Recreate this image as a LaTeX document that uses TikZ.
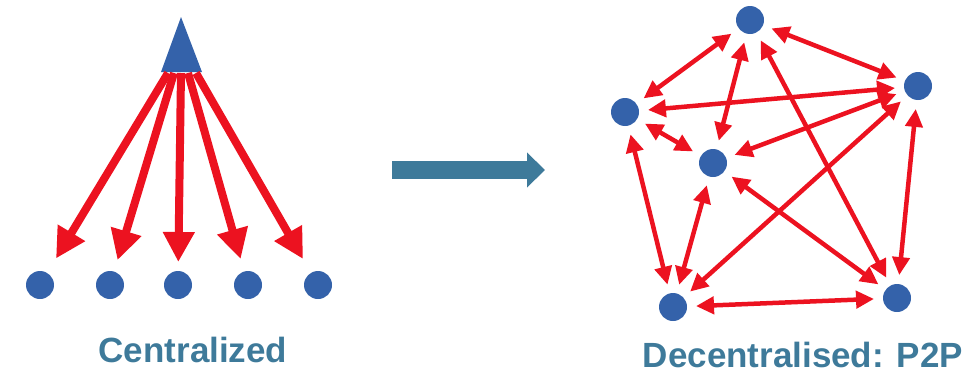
\documentclass[tikz,border=0pt]{standalone}
\usepackage{fontspec}
\setmainfont{Liberation Sans}
\usetikzlibrary{arrows.meta}
\definecolor{peerblue}{RGB}{52,98,170}
\definecolor{linkred}{RGB}{236,18,32}
\definecolor{capblue}{RGB}{62,122,154}
\tikzset{
  peer/.style    = {circle, fill=peerblue, minimum size=28pt,
                    inner sep=0pt, outer sep=0pt},
  feed/.style    = {draw=linkred, line width=8pt,
                    -{Triangle[length=30pt,width=30pt]}},
  link/.style    = {draw=linkred, line width=4.5pt,
                    {Triangle[length=18pt,width=17pt]}-{Triangle[length=18pt,width=17pt]},
                    shorten <=9pt, shorten >=9pt},
  moveto/.style  = {draw=capblue, line width=18pt,
                    -{Triangle[length=18pt,width=34pt]}},
  caption/.style = {font=\fontsize{35}{40}\selectfont\bfseries,
                    text=capblue, inner sep=0pt, anchor=base},
}

\begin{document}
\begin{tikzpicture}[x=1pt,y=-1pt]
  \useasboundingbox (0,0) rectangle (980,375);

  % centralized: one source feeding five clients
  \fill[peerblue] (181,17) -- (202,72) -- (161,72) -- cycle;
  \foreach \i/\x/\b in {1/40/168, 2/110/174, 3/178/181, 4/248/188, 5/318/196} {
    \node[peer] (c\i) at (\x,285) {};
    \coordinate (src\i) at (\b,73);
  }
  \foreach \i/\s in {1/17, 2/12, 3/9, 4/13, 5/16}
    \draw[feed, shorten >=\s pt] (src\i) -- (c\i);
  \node[caption] (cen) at (193,362) {Centralized};

  % transition
  \coordinate (from) at (392,170);
  \coordinate (to) at (545,170);
  \draw[moveto] (from) -- (to);

  % decentralised: peers linked to one another
  \node[peer] (top) at (750,20) {};
  \node[peer] (lft) at (625,112) {};
  \node[peer] (rgt) at (918,86) {};
  \node[peer] (mid) at (713,163) {};
  \node[peer] (bl)  at (673,307) {};
  \node[peer] (br)  at (897,298) {};
  \foreach \a/\b in {top/lft, top/rgt, top/mid, top/br, lft/rgt, lft/mid,
                     lft/bl, rgt/mid, rgt/bl, rgt/br, mid/bl, mid/br, bl/br}
    \draw[link] (\a) -- (\b);
  \node[caption] (dec) at (803,367) {Decentralised: P2P};
\end{tikzpicture}
\end{document}
